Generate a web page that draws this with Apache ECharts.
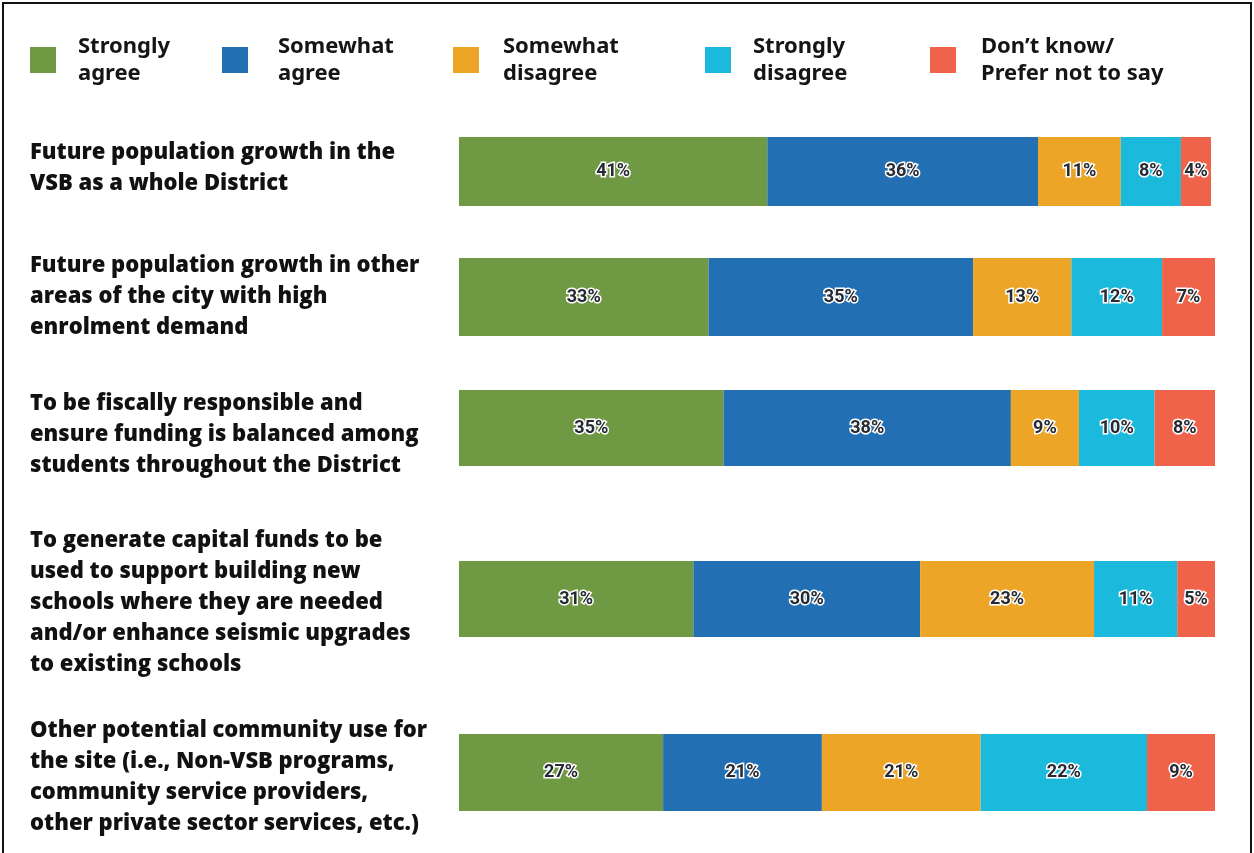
<!DOCTYPE html>
<html>
<head>
<meta charset="utf-8">
<script src="https://cdn.jsdelivr.net/npm/echarts@6/dist/echarts.min.js"></script>
<style>
  html, body { margin: 0; padding: 0; background: #fff; }
  #chart { position: absolute; left: 0; top: 0; width: 1254px; height: 853px; }
  #frame { position: absolute; left: 2px; top: 2px; width: 1246px; height: 900px;
           border: 2px solid #111; pointer-events: none; }
</style>
</head>
<body>
<div id="chart"></div>
<div id="frame"></div>
<script>
// Survey statements (one row each)
const categories = [
  'Future population growth in the\nVSB as a whole District',
  'Future population growth in other\nareas of the city with high\nenrolment demand',
  'To be fiscally responsible and\nensure funding is balanced among\nstudents throughout the District',
  'To generate capital funds to be\nused to support building new\nschools where they are needed\nand/or enhance seismic upgrades\nto existing schools',
  'Other potential community use for\nthe site (i.e., Non-VSB programs,\ncommunity service providers,\nother private sector services, etc.)'
];

// Response options
const responses = [
  'Strongly\nagree',
  'Somewhat\nagree',
  'Somewhat\ndisagree',
  'Strongly\ndisagree',
  'Don\u2019t know/\nPrefer not to say'
];

// Share of respondents (%) per statement
const stronglyAgree    = [41, 33, 35, 31, 27];
const somewhatAgree    = [36, 35, 38, 30, 21];
const somewhatDisagree = [11, 13,  9, 23, 21];
const stronglyDisagree = [ 8, 12, 10, 11, 22];
const dontKnow         = [ 4,  7,  8,  5,  9];

const responseValues = [stronglyAgree, somewhatAgree, somewhatDisagree, stronglyDisagree, dontKnow];
const colors = ['#6f9942', '#2270b3', '#eca526', '#1bb9db', '#ef634a'];

// Layout: each statement gets its own band
const rowTop    = [137, 258, 390, 561, 734];
const rowHeight = [ 69,  78,  76,  76,  77];
const rowRight  = [ 43,  39,  39,  39,  39];
const labelShift = [-3, 0, 7, 4, 5];   // vertical nudge of the statement text
const legendLeft = [30, 222, 453, 705, 930];
const legendTextGap = [17, 25, 19, 17, 20];

const grids = [], xAxes = [], yAxes = [], series = [];
categories.forEach((cat, i) => {
  grids.push({ left: 459, right: rowRight[i], top: rowTop[i], height: rowHeight[i] });
  xAxes.push({ type: 'value', gridIndex: i, min: 0, max: 100, show: false });
  const s = labelShift[i];
  yAxes.push({
    type: 'category', gridIndex: i, data: [cat],
    axisLine: { show: false }, axisTick: { show: false },
    axisLabel: {
      align: 'left', margin: 429,
      fontFamily: 'Open Sans', fontWeight: 800, fontSize: 22,
      lineHeight: 31, color: '#111',
      // an empty spacer line above or below moves the centred block
      formatter: v => s > 0 ? '{sp|}\n' + v : (s < 0 ? v + '\n{sp|}' : v),
      rich: { sp: { fontSize: 1, lineHeight: Math.abs(2 * s) } }
    }
  });
  responses.forEach((name, k) => {
    series.push({
      type: 'bar', name: name,
      xAxisIndex: i, yAxisIndex: i, stack: 'row' + i,
      barWidth: '100%',
      data: [responseValues[k][i]],
      itemStyle: { color: colors[k] },
      label: {
        show: true, position: 'inside', formatter: '{c}%',
        fontFamily: 'Roboto', fontWeight: 'bold', fontSize: 18,
        color: '#262a33', textBorderColor: '#fff', textBorderWidth: 3
      },
      emphasis: { disabled: true },
      animation: false
    });
  });
});

const legends = responses.map((name, k) => ({
  data: [name],
  left: legendLeft[k], top: 33,
  padding: 0,
  icon: 'rect', itemWidth: 26, itemHeight: 26,
  selectedMode: false,
  textStyle: {
    fontFamily: 'Noto Sans', fontWeight: 700, fontSize: 22,
    lineHeight: 27, color: '#151515', padding: [0, 0, 0, legendTextGap[k]]
  }
}));

const chart = echarts.init(document.getElementById('chart'), null, { renderer: 'canvas' });
chart.setOption({
  backgroundColor: '#fff',
  animation: false,
  color: colors,
  legend: legends,
  grid: grids,
  xAxis: xAxes,
  yAxis: yAxes,
  series: series
});
</script>
</body>
</html>
